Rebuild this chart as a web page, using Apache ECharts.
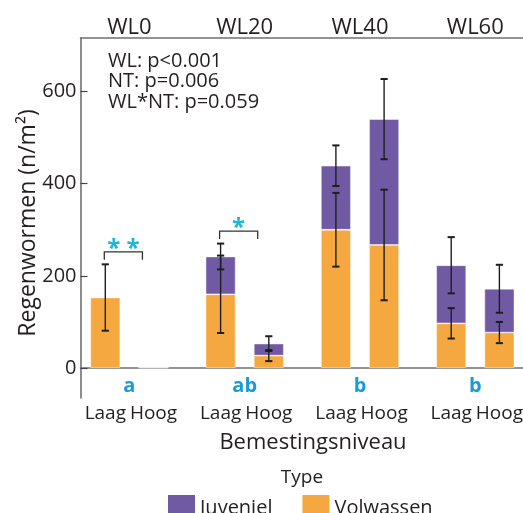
<!DOCTYPE html>
<html>
<head>
<meta charset="utf-8">
<script src="https://cdn.jsdelivr.net/npm/echarts@6/dist/echarts.min.js"></script>
<style>
  html, body { margin: 0; padding: 0; background: #fff; }
  #chart { width: 523px; height: 513px; }
</style>
</head>
<body>
<div id="chart"></div>
<script>
// Earthworm density (n/m2) per water level (WL) and fertilisation level
const waterLevels = ['WL0', 'WL20', 'WL40', 'WL60'];
const fertLevels = ['Laag', 'Hoog'];

// Adults (Volwassen): mean and standard error, [Laag, Hoog] per water level
const adultMean = [[153, 1], [160, 27], [300, 267], [97, 77]];
const adultSE   = [[72, 0], [84, 12], [80, 120], [33, 23]];

// Juveniles (Juveniel): stacked on top of adults, mean and standard error
const juvMean = [[0, 0], [82, 26], [139, 273], [126, 95]];
const juvSE   = [[0, 0], [28, 16], [44, 87], [61, 52]];

// Post-hoc groups per water level, and Laag vs Hoog significance
const groupLetters = ['a', 'ab', 'b', 'b'];
const sigStars = ['* *', '*', '', ''];

const statsText = 'WL: p<0.001\nNT: p=0.006\nWL*NT: p=0.059';
const yTicks = [0, 200, 400, 600];
const yMin = -65, yMax = 716;

const COLORS = { Juveniel: '#705aa4', Volwassen: '#f5a83f' };
const FONT = '"Open Sans", "Noto Sans", sans-serif';
const TEXT = '#231f20';
const FRAME = { color: '#707070', width: 1.6 };

// facet layout
const PLOT_TOP = 38, PLOT_H = 360;
const FACET_LEFT0 = 81.2, FACET_STEP = 115.3, FACET_W = 96.4;

// frame panel: left axis with ticks, plus top and bottom rules running off the right edge
const grids = [{ left: 80.5, top: PLOT_TOP, width: 470, height: PLOT_H, outerBoundsMode: 'none' }];
const xAxes = [
  { type: 'value', gridIndex: 0, min: 0, max: 1, position: 'bottom', axisLine: { show: true, lineStyle: FRAME },
    axisTick: { show: false }, axisLabel: { show: false }, splitLine: { show: false } },
  { type: 'value', gridIndex: 0, min: 0, max: 1, position: 'top', axisLine: { show: true, lineStyle: FRAME },
    axisTick: { show: false }, axisLabel: { show: false }, splitLine: { show: false } }
];
const yAxes = [{
  type: 'value', gridIndex: 0, min: yMin, max: yMax,
  name: 'Regenwormen (n/m²)', nameLocation: 'middle', nameGap: 41, nameMoveOverlap: false,
  nameTextStyle: { fontFamily: FONT, fontSize: 23, color: TEXT, padding: [0, 10, 0, 0] },
  axisLine: { show: true, lineStyle: FRAME },
  axisTick: { show: true, inside: true, length: 7, customValues: yTicks, lineStyle: { color: '#444', width: 1.2 } },
  axisLabel: { customValues: yTicks, fontFamily: FONT, fontSize: 20, color: TEXT, margin: 4 },
  splitLine: { show: false }
}];
const series = [];

function errorBars(params, api) {
  const x = api.value(0), lo = api.value(1), hi = api.value(2);
  if (hi - lo <= 0) return;
  const a = api.coord([x, lo]), b = api.coord([x, hi]);
  const cap = 3.6;
  const st = { stroke: '#1e1e1e', lineWidth: 1.4 };
  return { type: 'group', children: [
    { type: 'line', shape: { x1: a[0], y1: a[1], x2: b[0], y2: b[1] }, style: st },
    { type: 'line', shape: { x1: a[0] - cap, y1: a[1], x2: a[0] + cap, y2: a[1] }, style: { stroke: '#1e1e1e', lineWidth: 2 } },
    { type: 'line', shape: { x1: b[0] - cap, y1: b[1], x2: b[0] + cap, y2: b[1] }, style: { stroke: '#1e1e1e', lineWidth: 2 } }
  ] };
}

waterLevels.forEach((wl, i) => {
  const left = FACET_LEFT0 + i * FACET_STEP;
  grids.push({ left: left, top: PLOT_TOP, width: FACET_W, height: PLOT_H, outerBoundsMode: 'none' });
  const gi = i + 1;
  const xb = xAxes.length;
  xAxes.push({
    type: 'category', gridIndex: gi, data: fertLevels, position: 'bottom',
    axisLine: { show: false }, axisTick: { show: false },
    axisLabel: { fontFamily: FONT, fontSize: 19, color: TEXT, margin: 6, interval: 0 }
  });
  xAxes.push({
    type: 'category', gridIndex: gi, data: [wl], position: 'top',
    axisLine: { show: false }, axisTick: { show: false },
    axisLabel: { fontFamily: FONT, fontSize: 22, color: TEXT, margin: -1 }
  });
  const yi = yAxes.length;
  yAxes.push({ type: 'value', gridIndex: gi, min: yMin, max: yMax, show: false, splitLine: { show: false } });

  const barStyle = (c) => ({ color: c, borderColor: 'rgba(255,255,255,0.55)', borderWidth: 0.8 });
  series.push({
    name: 'Volwassen', type: 'bar', xAxisIndex: xb, yAxisIndex: yi, stack: 'f' + i,
    barWidth: 30, data: adultMean[i], itemStyle: barStyle(COLORS.Volwassen), z: 2
  });
  series.push({
    name: 'Juveniel', type: 'bar', xAxisIndex: xb, yAxisIndex: yi, stack: 'f' + i,
    barWidth: 30, data: juvMean[i], itemStyle: barStyle(COLORS.Juveniel), z: 2
  });

  // error bars: adults around adult mean, juveniles around the stacked total
  const errData = [];
  fertLevels.forEach((_, k) => {
    const am = adultMean[i][k], as = adultSE[i][k];
    errData.push([k, am - as, am + as]);
    const tot = am + juvMean[i][k], js = juvSE[i][k];
    errData.push([k, tot - js, tot + js]);
  });
  series.push({
    type: 'custom', xAxisIndex: xb, yAxisIndex: yi, renderItem: errorBars,
    encode: { x: 0, y: [1, 2] }, data: errData, z: 5, silent: true
  });

  // group letter under each pair, and significance bracket above the Laag error bars
  const laagHigh = Math.max(adultMean[i][0] + adultSE[i][0],
                            adultMean[i][0] + juvMean[i][0] + juvSE[i][0]);
  series.push({
    type: 'custom', xAxisIndex: xb, yAxisIndex: yi, silent: true, z: 6,
    data: [[0, laagHigh]],
    renderItem: function (params, api) {
      const band = api.size([1, 0])[0];
      const zero = api.coord([0, 0]);
      const children = [{
        type: 'text', x: zero[0] + band / 2, y: zero[1] + 18,
        style: { text: groupLetters[i], fontFamily: FONT, fontWeight: 'bold', fontSize: 20,
          fill: '#1b9ad6', align: 'center', verticalAlign: 'middle' }
      }];
      if (sigStars[i]) {
        const legY = api.coord([0, api.value(1) + 10])[1];
        const topY = api.coord([0, api.value(1) + 27])[1];
        const x0 = zero[0] - 1, x1 = zero[0] + band * 0.77;
        children.push({ type: 'polyline', shape: { points: [[x0, legY], [x0, topY], [x1, topY], [x1, legY]] },
          style: { stroke: '#333', lineWidth: 1.3, fill: null } });
        children.push({ type: 'text', x: (x0 + x1) / 2, y: topY + 9,
          style: { text: sigStars[i], fontFamily: FONT, fontWeight: 'bold', fontSize: 24,
            fill: '#1cb6da', align: 'center', verticalAlign: 'bottom' } });
      }
      return { type: 'group', children: children };
    }
  });
});

const chart = echarts.init(document.getElementById('chart'), null, { renderer: 'canvas' });
chart.setOption({
  backgroundColor: '#ffffff',
  animation: false,
  grid: grids,
  xAxis: xAxes,
  yAxis: yAxes,
  series: series,
  legend: {
    data: ['Juveniel', 'Volwassen'], icon: 'rect', orient: 'horizontal',
    left: 168, top: 495, padding: 0, itemWidth: 27, itemHeight: 27, itemGap: 30,
    itemStyle: { borderWidth: 0 },
    textStyle: { fontFamily: FONT, fontSize: 20, color: TEXT, padding: [0, 0, 9, 0] },
    selectedMode: false
  },
  graphic: [
    { type: 'text', x: 108, y: 51, style: { text: statsText, fontFamily: FONT, fontSize: 20,
      lineHeight: 20.5, fill: TEXT, align: 'left', verticalAlign: 'top' } },
    { type: 'text', x: 313, y: 443, style: { text: 'Bemestingsniveau', fontFamily: FONT, fontSize: 22,
      fill: TEXT, align: 'center', verticalAlign: 'middle' } },
    { type: 'text', x: 302, y: 478, style: { text: 'Type', fontFamily: FONT, fontSize: 19,
      fill: TEXT, align: 'center', verticalAlign: 'middle' } }
  ]
});
</script>
</body>
</html>
